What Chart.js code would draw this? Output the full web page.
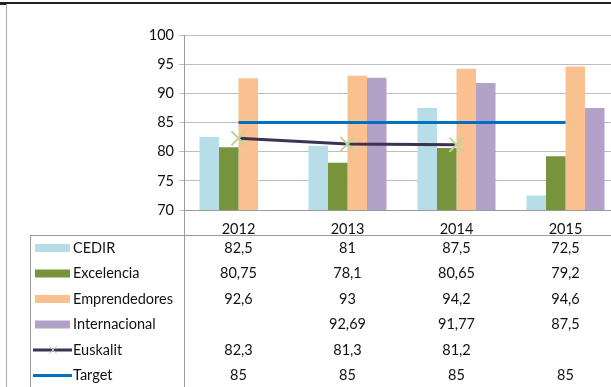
<!DOCTYPE html>
<html>
<head>
<meta charset="utf-8">
<script src="https://cdn.jsdelivr.net/npm/chart.js@4.4.1/dist/chart.umd.min.js"></script>
<style>
  html, body { margin: 0; padding: 0; background: #fff; overflow: hidden; }
  #wrap { position: absolute; left: 0; top: 0; width: 660px; height: 387px; }
</style>
</head>
<body>
<div id="wrap"><canvas id="chart" width="660" height="387"></canvas></div>
<script>
var years         = ['2012', '2013', '2014', '2015'];
var cedir         = [82.5, 81, 87.5, 72.5];
var excelencia    = [80.75, 78.1, 80.65, 79.2];
var emprendedores = [92.6, 93, 94.2, 94.6];
var internacional = [null, 92.69, 91.77, 87.5];
var euskalit      = [82.3, 81.3, 81.2, null];
var target        = [85, 85, 85, 85];
var y_ticks       = [70, 75, 80, 85, 90, 95, 100];

var font_name = 'Lato';
var text_color = '#111';
var line_color = '#9a9a9a';

function fmt(v) {
	return (v === null) ? '' : String(v).replace('.', ',');
}

// data table under the chart, like the excel one
var tablePlugin = {
	id: 'dataTable',
	afterDraw: function(chart) {
		var ctx = chart.ctx;
		var x = chart.scales.x;
		var axis_x = chart.chartArea.left;
		var top = chart.chartArea.bottom + 25;

		ctx.save();
		// outer frame
		ctx.fillStyle = '#222';
		ctx.fillRect(0, 2, 660, 2);
		ctx.fillRect(0, 2, 6, 3);
		ctx.fillStyle = '#aaa';
		ctx.fillRect(6, 4, 1, 383);

		ctx.strokeStyle = line_color;
		ctx.lineWidth = 1;
		ctx.beginPath();
		ctx.moveTo(30, top + 0.5); ctx.lineTo(660, top + 0.5);
		ctx.moveTo(30.5, top); ctx.lineTo(30.5, 387);
		ctx.moveTo(axis_x + 0.5, chart.chartArea.bottom); ctx.lineTo(axis_x + 0.5, 387);
		ctx.stroke();

		var rows = [
			{ name: 'CEDIR', data: cedir, ds: 0 },
			{ name: 'Excelencia', data: excelencia, ds: 1 },
			{ name: 'Emprendedores', data: emprendedores, ds: 2 },
			{ name: 'Internacional', data: internacional, ds: 3 },
			{ name: 'Euskalit', data: euskalit, ds: 4 },
			{ name: 'Target', data: target, ds: 5 }
		];

		ctx.font = '14.5px ' + font_name;
		ctx.textBaseline = 'middle';
		for (var r in rows) {
			var cy = top + 13 + r * 25.5;
			var ds = chart.data.datasets[rows[r].ds];

			if (ds.type === 'line') {
				ctx.strokeStyle = ds.borderColor;
				ctx.lineWidth = 3;
				ctx.beginPath();
				ctx.moveTo(33, cy); ctx.lineTo(72, cy);
				ctx.stroke();
				if (ds.pointRadius > 0) {
					ctx.strokeStyle = ds.pointBorderColor;
					ctx.lineWidth = 1;
					ctx.beginPath();
					ctx.moveTo(49, cy - 4); ctx.lineTo(57, cy + 4);
					ctx.moveTo(57, cy - 4); ctx.lineTo(49, cy + 4);
					ctx.stroke();
				}
			} else {
				ctx.fillStyle = ds.backgroundColor;
				ctx.fillRect(35, cy - 4, 35, 8);
			}

			ctx.fillStyle = text_color;
			ctx.textAlign = 'left';
			ctx.fillText(rows[r].name, 73, cy);

			ctx.textAlign = 'center';
			for (var i in rows[r].data) {
				ctx.fillText(fmt(rows[r].data[i]), x.getPixelForValue(Number(i)), cy);
			}
		}
		ctx.restore();
	}
};

var ctx = document.getElementById('chart');

var myChart = new Chart(ctx, {
	type: 'bar',
	data: {
		labels: years,
		datasets: [
			{ label: 'CEDIR', data: cedir, backgroundColor: '#b7dee8', order: 2 },
			{ label: 'Excelencia', data: excelencia, backgroundColor: '#77933c', order: 2 },
			{ label: 'Emprendedores', data: emprendedores, backgroundColor: '#fac090', order: 2 },
			{ label: 'Internacional', data: internacional, backgroundColor: '#b3a2c7', order: 2 },
			{
				type: 'line', label: 'Euskalit', data: euskalit, order: 1,
				borderColor: '#3f3151', borderWidth: 3,
				pointStyle: 'crossRot', pointRadius: 10,
				pointBorderColor: '#b9d79c', pointBorderWidth: 2,
				spanGaps: false
			},
			{
				type: 'line', label: 'Target', data: target, order: 0,
				borderColor: '#0070c0', borderWidth: 3, pointRadius: 0
			}
		]
	},
	options: {
		responsive: false,
		animation: false,
		datasets: {
			bar: { categoryPercentage: 0.716, barPercentage: 1 }
		},
		layout: { padding: { left: 0, right: 40, top: 35, bottom: 152 } },
		plugins: {
			legend: { display: false },
			tooltip: { enabled: false }
		},
		scales: {
			x: {
				grid: { display: false },
				border: { display: true, color: line_color, width: 1 },
				ticks: { color: text_color, padding: 3, font: { family: font_name, size: 14.5 } },
				afterFit: function(scale) { scale.height = 25; }
			},
			y: {
				min: 70,
				max: 100,
				afterBuildTicks: function(scale) {
					scale.ticks = y_ticks.map(function(v) { return { value: v }; });
				},
				grid: { color: '#bdbdbd', tickLength: 5 },
				border: { display: true, color: line_color, width: 1 },
				ticks: { color: text_color, padding: 5, font: { family: font_name, size: 14.5 } },
				afterFit: function(scale) { scale.width = 184; }
			}
		}
	},
	plugins: [tablePlugin]
});
</script>
</body>
</html>
